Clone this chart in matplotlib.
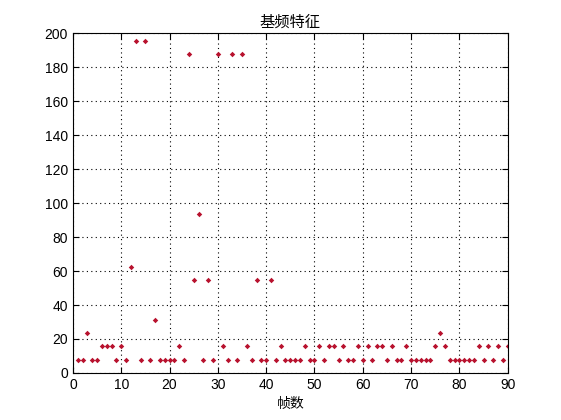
import matplotlib
matplotlib.use("Agg")
import matplotlib.pyplot as plt
import numpy as np

plt.rcParams['font.family'] = ['Noto Sans CJK SC', 'DejaVu Sans']

# pitch value per frame (frames 1..90)
frames = np.arange(1, 91)
pitch = [7.8, 7.8, 23.4, 7.8, 7.8, 15.6, 15.6, 15.6, 7.8, 15.6,
         7.8, 62.5, 195.3, 7.8, 195.3, 7.8, 31.3, 7.8, 7.8, 7.8,
         7.8, 15.6, 7.8, 187.5, 54.7, 93.8, 7.8, 54.7, 7.8, 187.5,
         15.6, 7.8, 187.5, 7.8, 187.5, 15.6, 7.8, 54.7, 7.8, 7.8,
         54.7, 7.8, 15.6, 7.8, 7.8, 7.8, 7.8, 15.6, 7.8, 7.8,
         15.6, 7.8, 15.6, 15.6, 7.8, 15.6, 7.8, 7.8, 15.6, 7.8,
         15.6, 7.8, 15.6, 15.6, 7.8, 15.6, 7.8, 7.8, 15.6, 7.8,
         7.8, 7.8, 7.8, 7.8, 15.6, 23.4, 15.6, 7.8, 7.8, 7.8,
         7.8, 7.8, 7.8, 15.6, 7.8, 15.6, 7.8, 15.6, 7.8, 15.6]
xticks = np.arange(0, 91, 10)
yticks = np.arange(0, 201, 20)

fig = plt.figure(figsize=(5.61, 4.2), dpi=100)
ax = fig.add_axes([0.13, 0.112, 0.775, 0.809])
ax.plot(frames, pitch, 'D', color='#b8122e', markersize=2.8, markeredgewidth=0)
ax.set_xlim(0, 90)
ax.set_ylim(0, 200)
ax.set_xticks(xticks)
ax.set_yticks(yticks)
ax.tick_params(direction='in', top=True, right=True, labelsize=10, length=4, width=0.8)
for lab in ax.get_xticklabels() + ax.get_yticklabels():
    lab.set_family('Liberation Sans')
ax.grid(True, linestyle=(0, (1, 3)), color='black', linewidth=0.8)
for s in ax.spines.values():
    s.set_linewidth(0.8)
ax.set_title('基频特征', fontsize=11, pad=5)
ax.set_xlabel('帧数', fontsize=10, labelpad=4)
fig.savefig('out.png', dpi=100)
